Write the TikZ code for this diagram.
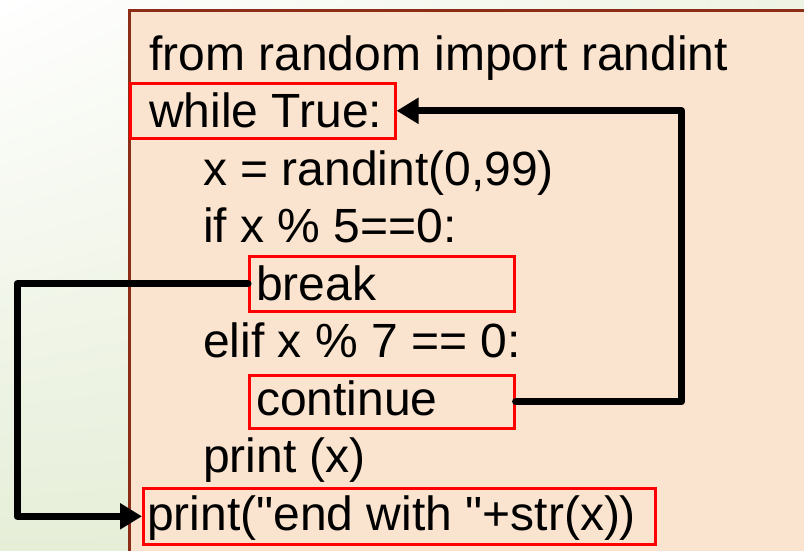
\documentclass[tikz,border=0pt]{standalone}
\usepackage{fontspec}
\setmainfont{Liberation Sans}[Ligatures=TeXOff]
\usetikzlibrary{arrows.meta,shadings}
\definecolor{peach}{HTML}{FAE4CF}
\definecolor{brownedge}{HTML}{8C2D17}
\definecolor{bggreen}{HTML}{E6EED8}
\begin{document}
\begin{tikzpicture}[x=1pt,y=-1pt,
  code/.style={anchor=base west, inner sep=0pt, font=\fontsize{48}{57}\selectfont},
  redbox/.style={draw=red, line width=2.6pt, anchor=north west, inner sep=0pt},
  flow/.style={line width=7pt, line cap=round, line join=round, -{Triangle[length=22pt,width=25pt]}}]
\useasboundingbox (0,0) rectangle (804,550);
\clip (0,0) rectangle (804,550);
\shade[upper left=white, upper right=bggreen!70, lower left=bggreen, lower right=bggreen] (0,0) rectangle (804,550);
\draw[draw=brownedge, line width=3pt, fill=peach] (129,10) rectangle (830,580);
% red boxes
\node[redbox, minimum width=265pt, minimum height=55pt] (wh) at (129,82) {};
\node[redbox, minimum width=265pt, minimum height=55pt] (brk) at (248,255) {};
\node[redbox, minimum width=265pt, minimum height=53pt] (cont) at (248,374) {};
\node[redbox, minimum width=512pt, minimum height=56pt] (pend) at (142,487) {};
% code lines
\node[code] (l1) at (149,70) {from random import randint};
\node[code] (l2) at (149,127.5) {while True:};
\node[code] (l3) at (203,185) {x = randint(0,99)};
\node[code] (l4) at (203,242.5) {if x \% 5==0:};
\node[code] (l5) at (256,300) {break};
\node[code] (l6) at (203,357.5) {elif x \% 7 == 0:};
\node[code] (l7) at (256,415) {continue};
\node[code] (l8) at (203,472.5) {print (x)};
\node[code] (l9) at (147,530) {print("end with "+str(x))};
% connectors
\draw[flow] (cont.east) -- ++(166,0) |- (wh.east);
\draw[flow] (brk.west) -- ++(-231,0) |- (pend.west);
\end{tikzpicture}
\end{document}
